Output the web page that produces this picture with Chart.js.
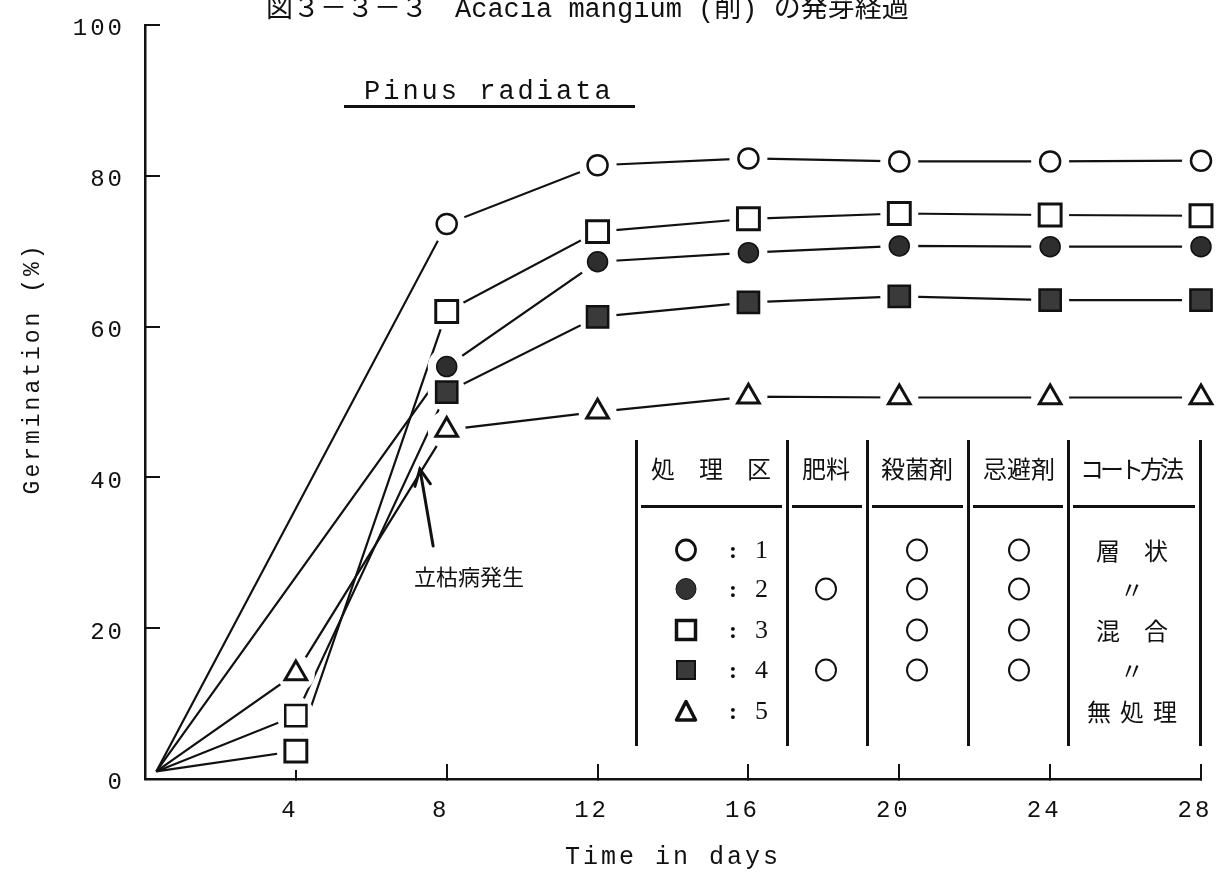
<!DOCTYPE html>
<html><head><meta charset="utf-8">
<script src="https://cdn.jsdelivr.net/npm/chart.js@4.4.0/dist/chart.umd.min.js"></script>
<style>
html,body{margin:0;padding:0;background:#fff;}
#wrap{position:relative;width:1221px;height:880px;overflow:hidden;background:#fff;}
canvas{position:absolute;left:0;top:0;}
.abs{position:absolute;white-space:nowrap;color:#111;}
</style></head><body>
<div id="wrap"><canvas id="c" width="1221" height="880"></canvas>
<div id="title" class="abs" style="left:266px;top:-3px;font:27px/27px 'Liberation Mono','Noto Sans CJK JP';">図３－３－３　Acacia mangium (削) の発芽経過</div>
<div id="sub" class="abs" style="left:364px;top:79px;font:27px/27px 'Liberation Mono';letter-spacing:3px;">Pinus radiata</div>
<div class="abs" style="left:344px;top:105px;width:291px;height:3px;background:#111"></div>
<div id="legend"></div>
</div>
<script>
// ---- data ----
const days   = [0.3, 4, 8, 12, 16, 20, 24, 28];
const treat1 = [1, null, 73.6, 81.4, 82.3, 81.9, 81.9, 82.0];   // ○
const treat2 = [1, null, 54.7, 68.6, 69.8, 70.7, 70.6, 70.6];   // ●
const treat3 = [1, 3.7, 62.0, 72.6, 74.3, 75.0, 74.8, 74.7];    // □
const treat4 = [1, 8.4, 51.3, 61.3, 63.2, 64.0, 63.5, 63.5];    // ■
const treat5 = [1, 14.0, 46.3, 48.7, 50.7, 50.6, 50.6, 50.6];   // △
const xTicks = [4, 8, 12, 16, 20, 24, 28];
const yTicks = [0, 20, 40, 60, 80, 100];

// legend table
const tableHeaders = ['処　理　区', '肥料', '殺菌剤', '忌避剤', 'コート方法'];
const treatNo      = ['1', '2', '3', '4', '5'];
const fertilizer   = [false, true, false, true, false];
const fungicide    = [true, true, true, true, false];
const repellent    = [true, true, true, true, false];
const coating      = ['層　状', '〃', '混　合', '〃', '無処理'];

// annotation (day, %)
const noteText = '立枯病発生';
const noteArrowFrom = [7.64, 30.9];
const noteArrowTo   = [7.29, 41.1];
const noteLabelAt   = [8.59, 26.9];

// ---- styles ----
const INK = '#111';
const seriesDefs = [
  {vals: treat1, style: 'circle',   r: 10,   bg: '#fff',    bw: 2.5},
  {vals: treat2, style: 'circle',   r: 10,   bg: '#2e2e2e', bw: 1.5},
  {vals: treat3, style: 'rect',     r: 15.5, bg: '#fff',    bw: 3},
  {vals: treat4, style: 'rect',     r: 15,   bg: (c) => c.dataIndex === 1 ? '#fff' : '#3a3a3a', bw: 2.5},
  {vals: treat5, style: 'triangle', r: 12.5, bg: '#fff',    bw: 3},
];

const datasets = [];
seriesDefs.forEach((s, k) => {
  const pts = days.map((d, i) => ({x: d, y: s.vals[i]}));
  datasets.push({ label: 'line' + (k+1), data: pts, order: 3, borderColor: INK, borderWidth: 2.2,
    pointRadius: 0, spanGaps: true, tension: 0, clip: false, fill: false });
  datasets.push({ label: 'halo' + (k+1), data: pts, order: 2, showLine: false, clip: false,
    pointStyle: 'circle', pointRadius: (c) => c.dataIndex === 0 ? 0 : 19,
    pointBackgroundColor: '#fff', pointBorderWidth: 0, pointBorderColor: '#fff' });
  datasets.push({ label: 'mark' + (k+1), data: pts, order: 1, showLine: false, clip: false,
    pointStyle: s.style, pointRadius: (c) => c.dataIndex === 0 ? 0 : s.r,
    pointBackgroundColor: s.bg, pointBorderColor: INK, pointBorderWidth: s.bw });
});

const deco = {
  id: 'deco',
  beforeDraw(chart) { chart.ctx.letterSpacing = '3px'; },
  afterDatasetsDraw(chart) {
    const ctx = chart.ctx, xs = chart.scales.x, ys = chart.scales.y;
    ctx.save();
    ctx.letterSpacing = '0px';
    const x1 = xs.getPixelForValue(noteArrowFrom[0]), y1 = ys.getPixelForValue(noteArrowFrom[1]);
    const x2 = xs.getPixelForValue(noteArrowTo[0]),   y2 = ys.getPixelForValue(noteArrowTo[1]);
    ctx.strokeStyle = INK; ctx.lineWidth = 3; ctx.lineCap = 'round';
    ctx.beginPath(); ctx.moveTo(x1, y1); ctx.lineTo(x2, y2); ctx.stroke();
    const ang = Math.atan2(y2 - y1, x2 - x1), L = 18, spread = 0.45;
    ctx.beginPath();
    ctx.moveTo(x2 - L * Math.cos(ang - spread), y2 - L * Math.sin(ang - spread));
    ctx.lineTo(x2, y2);
    ctx.lineTo(x2 - L * Math.cos(ang + spread), y2 - L * Math.sin(ang + spread));
    ctx.stroke();
    ctx.fillStyle = INK;
    ctx.font = '22px "Noto Sans CJK JP"';
    ctx.textAlign = 'center'; ctx.textBaseline = 'middle';
    ctx.fillText(noteText, xs.getPixelForValue(noteLabelAt[0]), ys.getPixelForValue(noteLabelAt[1]));
    ctx.restore();
  }
};

const monoFont = {family: 'Liberation Mono', size: 24};
new Chart(document.getElementById('c'), {
  type: 'line',
  data: { datasets },
  options: {
    responsive: false, animation: false, devicePixelRatio: 1,
    layout: { padding: {top: 25, right: 20, bottom: 0, left: 0} },
    plugins: { legend: {display: false}, tooltip: {enabled: false}, title: {display: false} },
    scales: {
      x: {
        type: 'linear', min: 0, max: 28,
        afterFit: (s) => { s.height = 101; s.paddingLeft = 0; s.paddingRight = 0; },
        afterBuildTicks: (s) => { s.ticks = xTicks.map(v => ({value: v})); },
        ticks: { autoSkip: false, maxRotation: 0, color: INK, font: monoFont, padding: 32, labelOffset: -6 },
        grid: { display: true, drawOnChartArea: false, drawTicks: true, tickLength: -15, color: INK, lineWidth: 2 },
        border: { display: true, color: INK, width: 2.5 },
        title: { display: true, text: 'Time in days', color: INK, font: {family: 'Liberation Mono', size: 25}, padding: {top: 0, bottom: 8} }
      },
      y: {
        min: 0, max: 100,
        afterFit: (s) => { s.width = 145; s.paddingTop = 0; s.paddingBottom = 0; },
        afterBuildTicks: (s) => { s.ticks = yTicks.map(v => ({value: v})); },
        ticks: { color: INK, font: monoFont, padding: 35, labelOffset: 4 },
        grid: { display: true, drawOnChartArea: false, drawTicks: true, tickLength: -15, color: INK, lineWidth: 2 },
        border: { display: true, color: INK, width: 2.5 },
        title: { display: true, text: '    Germination (%)', color: INK, font: {family: 'Liberation Mono', size: 23}, padding: {top: 19, bottom: 0} }
      }
    }
  },
  plugins: [deco]
});

// ---- legend table (HTML) ----
(function () {
  const box = document.getElementById('legend');
  function add(html, css) {
    const d = document.createElement('div');
    d.className = 'abs'; d.style.cssText = css; d.innerHTML = html; box.appendChild(d); return d;
  }
  function svg(inner, w, h) { return `<svg width="${w}" height="${h}" viewBox="0 0 ${w} ${h}" style="display:block">${inner}</svg>`; }
  const marks = [
    '<ellipse cx="12" cy="12" rx="9.5" ry="10" fill="#fff" stroke="#111" stroke-width="2.8"/>',
    '<ellipse cx="12" cy="12" rx="10" ry="10.5" fill="#333" stroke="#111" stroke-width="1"/>',
    '<rect x="2.5" y="2.5" width="19" height="19" fill="#fff" stroke="#111" stroke-width="3.5"/>',
    '<rect x="3" y="3" width="18" height="18" fill="#3a3a3a" stroke="#111" stroke-width="2"/>',
    '<path d="M12 2.5 L21.5 21 L2.5 21 Z" fill="#fff" stroke="#111" stroke-width="3.5" stroke-linejoin="round"/>'
  ];
  const ring = svg('<ellipse cx="12" cy="12" rx="10" ry="10.5" fill="none" stroke="#111" stroke-width="2"/>', 24, 24);
  const colX = [636, 787, 867, 968, 1068, 1200];
  colX.forEach(x => add('', `left:${x - 1.5}px;top:440px;width:3px;height:306px;background:#111`));
  const headCx = [711, 826, 917, 1019, 1130];
  tableHeaders.forEach((h, i) => add(h,
    `left:${headCx[i] - 100}px;width:200px;text-align:center;top:454px;font:24px/28px 'Noto Sans CJK JP';` +
    (i === 4 ? 'letter-spacing:-4px;' : '')));
  for (let i = 0; i < 5; i++)
    add('', `left:${colX[i] + 5}px;top:505px;width:${colX[i + 1] - colX[i] - 10}px;height:2.5px;background:#111`);
  const rowY = [550, 589, 630, 670, 711];
  const colCx = [826, 917, 1019];
  treatNo.forEach((n, r) => {
    const y = rowY[r];
    add(svg(marks[r], 24, 24), `left:${686 - 12}px;top:${y - 12}px`);
    add(':', `left:729px;top:${y - 15}px;font:bold 24px/30px 'Liberation Serif'`);
    add(n, `left:755px;top:${y - 15}px;font:26px/30px 'Liberation Serif'`);
    [fertilizer, fungicide, repellent].forEach((arr, c) => {
      if (arr[r]) add(ring, `left:${colCx[c] - 12}px;top:${y - 12}px`);
    });
    add(coating[r], `left:${1132 - 80}px;width:160px;text-align:center;top:${y - 15}px;font:24px/30px 'Noto Sans CJK JP';` +
      (r === 4 ? 'letter-spacing:9px;text-indent:9px;' : ''));
  });
})();
</script>
</body></html>
